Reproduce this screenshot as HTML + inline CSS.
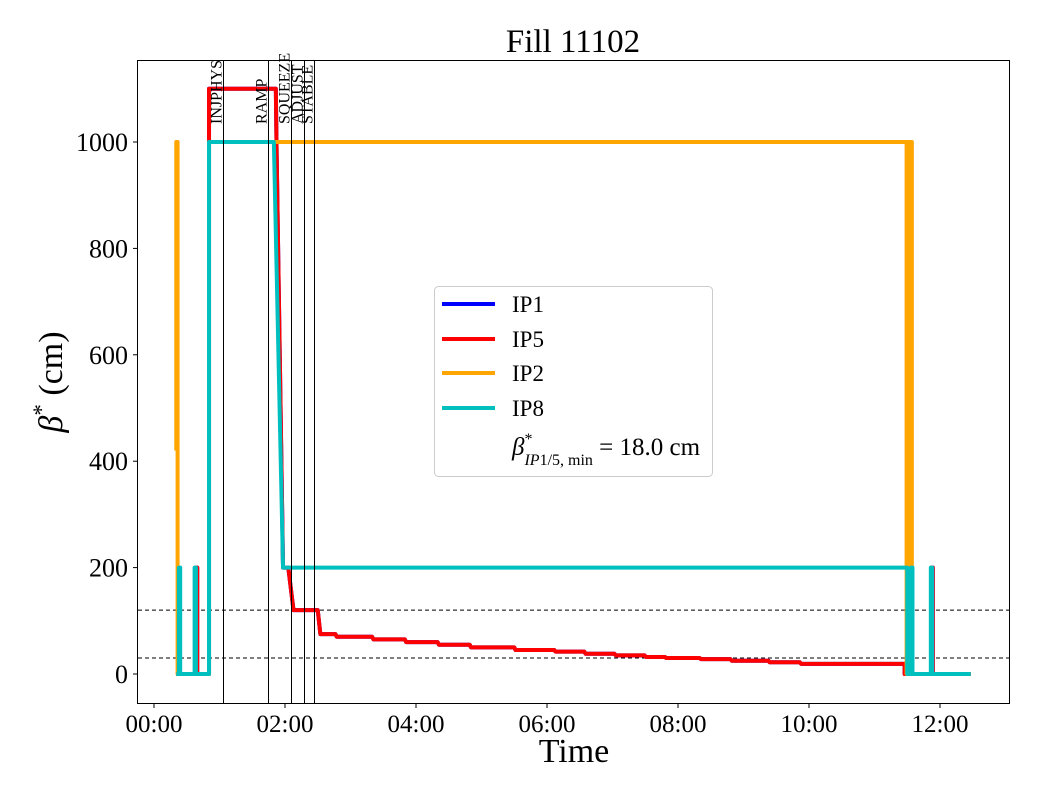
<!DOCTYPE html>
<html><head><meta charset="utf-8"><style>
body{margin:0;background:#fff}
svg text{font-family:"Liberation Serif",serif;fill:#000}
</style></head><body>
<svg id="chart" width="1040" height="800" xmlns="http://www.w3.org/2000/svg">
<rect width="1040" height="800" fill="#fff"/>
<text x="573" y="52" font-size="33" text-anchor="middle">Fill 11102</text>
<g id="plot"></g>
<rect x="137.5" y="60.5" width="872" height="643" fill="none" stroke="#000" stroke-width="1"/>
<text x="574" y="762" font-size="34" text-anchor="middle">Time</text>
<text transform="translate(62,382) rotate(-90)" font-size="34" text-anchor="middle"><tspan font-style="italic">β</tspan><tspan dy="-13" font-size="23">*</tspan><tspan dy="13"> (cm)</tspan></text>
<g>
<rect x="434.5" y="286.5" width="278" height="190" rx="4" fill="#fff" fill-opacity="0.85" stroke="#ccc"/>
<line x1="442" y1="304" x2="495" y2="304" stroke="#0000ff" stroke-width="4"/>
<text x="512" y="312" font-size="23">IP1</text>
<line x1="442" y1="339" x2="495" y2="339" stroke="#ff0000" stroke-width="4"/>
<text x="512" y="347" font-size="23">IP5</text>
<line x1="442" y1="373" x2="495" y2="373" stroke="#ffa500" stroke-width="4"/>
<text x="512" y="381" font-size="23">IP2</text>
<line x1="442" y1="408" x2="495" y2="408" stroke="#00bfbf" stroke-width="4"/>
<text x="512" y="416" font-size="23">IP8</text>
<text x="512" y="455" font-size="25"><tspan font-style="italic">β</tspan><tspan dy="-11" font-size="16">*</tspan><tspan dx="-8" dy="21" font-size="16" font-style="italic">IP</tspan><tspan font-size="16">1/5, min</tspan><tspan dy="-10"> = 18.0 cm</tspan></text>
</g>
</svg>
<script>
const xTicks=[0,2,4,6,8,10,12];
const xTickLabels=["00:00","02:00","04:00","06:00","08:00","10:00","12:00"];
const yTicks=[0,200,400,600,800,1000];
const refLines=[120,30];
const phaseTimes=[1.05,1.74,2.09,2.29,2.44];
const phaseNames=["INJPHYS","RAMP","SQUEEZE","ADJUST","STABLE"];
const ip8T=[0.34,0.38,0.38,0.40,0.40,0.62,0.62,0.64,0.64,0.84,0.84,1.83,1.97,11.50,11.50,11.56,11.56,11.58,11.58,11.86,11.86,11.88,11.88,12.47];
const ip8V=[0,0,200,200,0,0,200,200,0,0,1000,1000,200,200,0,0,200,200,0,0,200,200,0,0];
const ip2T=[0.34,0.34,0.36,0.36,0.84,0.84,11.49,11.49,11.51,11.51,11.53,11.53,11.55,11.55,11.57,11.57,12.47];
const ip2V=[420,1000,1000,0,0,1000,1000,0,1000,0,1000,0,1000,0,1000,0,0];
const ip5HeadT=[0.34,0.64,0.64,0.66,0.66,0.84,0.84,1.86,1.87,1.97,2.05,2.13,2.50,2.54];
const ip5HeadV=[0,0,200,200,0,0,1100,1100,1000,200,200,120,120,75];
const ip5StepT=[2.54,2.77,3.33,3.83,4.33,4.82,5.50,6.11,6.57,7.03,7.49,7.80,8.33,8.80,9.38,9.86,11.46];
const ip5StepV=[75,70,65,60,55,50,45,42,38,35,32,30,28,25,22,19];
const ip5TailT=[11.46,11.87,11.87,11.89,11.89,12.47];
const ip5TailV=[0,0,200,200,0,0];

const X0=154,PXH=65.5,Y0=674,PXV=0.532,TOP=61,BOT=703,L=138,R=1009;
const sx=t=>X0+t*PXH, sy=v=>Y0-v*PXV;
const svg=document.getElementById('chart'), g=document.getElementById('plot');
const NS="http://www.w3.org/2000/svg";
function mk(tag,a,parent){const e=document.createElementNS(NS,tag);for(const k in a)e.setAttribute(k,a[k]);(parent||g).appendChild(e);return e;}

function ip5Points(){const P=[];
ip5HeadT.forEach((t,i)=>P.push([t,ip5HeadV[i]]));
ip5StepV.forEach((v,i)=>{P.push([ip5StepT[i]+0.02,v]);P.push([ip5StepT[i+1],v]);});
ip5TailT.forEach((t,i)=>P.push([t,ip5TailV[i]]));
return P;}

refLines.forEach(v=>{const e=mk('line',{x1:L,x2:R,y1:sy(v),y2:sy(v),stroke:'#000','stroke-width':1,'stroke-dasharray':'4,3'});

});

function series(P,color,name){const pts=P.map(p=>sx(p[0])+','+sy(p[1])).join(' ');
const e=mk('polyline',{points:pts,fill:'none',stroke:color,'stroke-width':4,'stroke-linejoin':'round'});

}
const p5=ip5Points();
series(p5,'#0000ff','series-ip1');
series(p5,'#ff0000','series-ip5');
series(ip2T.map((t,i)=>[t,ip2V[i]]),'#ffa500','series-ip2');
series(ip8T.map((t,i)=>[t,ip8V[i]]),'#00bfbf','series-ip8');

phaseTimes.forEach((t,i)=>{const x=Math.round(sx(t))+0.5;
const l=mk('line',{x1:x,x2:x,y1:TOP,y2:BOT,stroke:'#000','stroke-width':1});


const tx=mk('text',{transform:`translate(${x-2},124) rotate(-90)`,'font-size':16});
tx.textContent=phaseNames[i];

});

xTicks.forEach((t,i)=>{const x=sx(t);
const tk=mk('line',{x1:x,x2:x,y1:BOT,y2:BOT+5,stroke:'#000'},svg);


const tx=mk('text',{x:x,y:732,'font-size':25,'text-anchor':'middle'},svg);
tx.textContent=xTickLabels[i];

});
yTicks.forEach(v=>{const y=sy(v);
const tk=mk('line',{x1:L-5,x2:L,y1:y,y2:y,stroke:'#000'},svg);


const tx=mk('text',{x:128,y:y+9,'font-size':26,'text-anchor':'end'},svg);
tx.textContent=v;

});
</script>
</body></html>
